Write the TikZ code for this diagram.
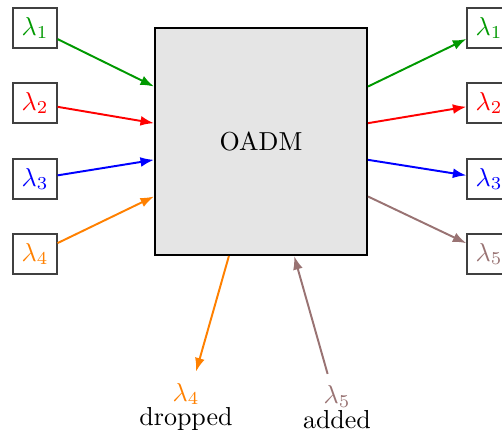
\documentclass[tikz,border=0pt]{standalone}
\usetikzlibrary{arrows.meta,calc}
\definecolor{cgreen}{RGB}{0,153,0}
\definecolor{cred}{RGB}{255,0,0}
\definecolor{cblue}{RGB}{0,0,255}
\definecolor{corange}{RGB}{255,128,0}
\definecolor{cbrown}{RGB}{153,115,115}
\definecolor{boxfill}{RGB}{229,229,229}
\begin{document}
\begin{tikzpicture}[x=0.3846pt,y=-0.3846pt,
  lbox/.style={draw=black!75,line width=0.5pt,minimum width=16.9pt,minimum height=15.4pt,inner sep=0pt},
  oadm/.style={draw=black,line width=0.8pt,fill=boxfill,minimum width=81.5pt,minimum height=87.3pt,inner sep=0pt},
  arr/.style={line width=0.75pt,-{Latex[length=5.2pt,width=3.8pt]}},
  endlbl/.style={align=center,inner sep=4.2pt}]
\useasboundingbox (0,0) rectangle (502,430);
\node[oadm] (box) at (261,141.5) {OADM};
% left inputs
\node[lbox] (l1) at (35,28) {\color{cgreen}$\lambda_1$};
\node[lbox] (l2) at (35,103) {\color{cred}$\lambda_2$};
\node[lbox] (l3) at (35,179) {\color{cblue}$\lambda_3$};
\node[lbox] (l4) at (35,254) {\color{corange}$\lambda_4$};
% right outputs
\node[lbox] (r1) at (489,28) {\color{cgreen}$\lambda_1$};
\node[lbox] (r2) at (489,103) {\color{cred}$\lambda_2$};
\node[lbox] (r3) at (489,179) {\color{cblue}$\lambda_3$};
\node[lbox] (r5) at (489,254) {\color{cbrown}$\lambda_5$};
% bottom labels
\node[endlbl] (drop) at (186,407) {\color{corange}$\lambda_4$\\[-2.4pt]dropped};
\node[endlbl] (add) at (337,407) {\color{cbrown}$\lambda_5$\\[-2.4pt]added};
% points on the box
\coordinate (w1) at ($(box.north west)!0.26!(box.south west)$);
\coordinate (w2) at ($(box.north west)!0.42!(box.south west)$);
\coordinate (w3) at ($(box.north west)!0.58!(box.south west)$);
\coordinate (w4) at ($(box.north west)!0.74!(box.south west)$);
\coordinate (e1) at ($(box.north east)!0.26!(box.south east)$);
\coordinate (e2) at ($(box.north east)!0.42!(box.south east)$);
\coordinate (e3) at ($(box.north east)!0.58!(box.south east)$);
\coordinate (e4) at ($(box.north east)!0.74!(box.south east)$);
\coordinate (s1) at ($(box.south west)!0.35!(box.south east)$);
\coordinate (s2) at ($(box.south west)!0.655!(box.south east)$);
% connectors
\draw[arr,cgreen] (l1) -- (w1);
\draw[arr,cred] (l2) -- (w2);
\draw[arr,cblue] (l3) -- (w3);
\draw[arr,corange] (l4) -- (w4);
\draw[arr,cgreen] (e1) -- (r1);
\draw[arr,cred] (e2) -- (r2);
\draw[arr,cblue] (e3) -- (r3);
\draw[arr,cbrown] (e4) -- (r5);
\draw[arr,corange] (s1) -- (drop);
\draw[arr,cbrown] (add) -- (s2);
\end{tikzpicture}
\end{document}
